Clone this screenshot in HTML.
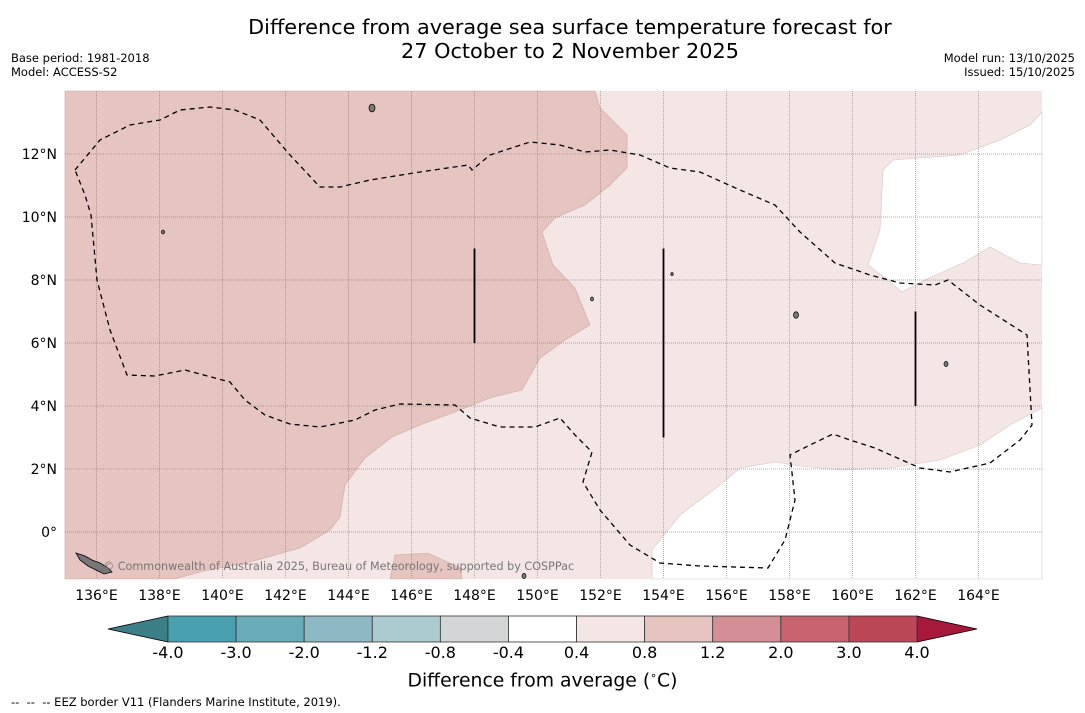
<!DOCTYPE html>
<html><head><meta charset="utf-8"><style>
body{margin:0;background:#fff;font-family:"DejaVu Sans","Liberation Sans",sans-serif;}
#wrap{position:relative;width:1085px;height:713px;overflow:hidden;}
.t{position:absolute;white-space:nowrap;color:#000;}
</style></head><body>
<div id="wrap">
<div class="t" style="left:0;width:1140px;text-align:center;top:15px;font-size:20.8px;line-height:24px;">Difference from average sea surface temperature forecast for<br>27 October to 2 November 2025</div>
<div class="t" style="left:11px;top:51px;font-size:11.5px;line-height:14px;">Base period: 1981-2018<br>Model: ACCESS-S2</div>
<div class="t" style="right:10px;top:51px;font-size:11.5px;line-height:14px;text-align:right;">Model run: 13/10/2025<br>Issued: 15/10/2025</div>
<svg id="map" width="1085" height="713" style="position:absolute;left:0;top:0"></svg>
<div class="t" style="left:0;width:1085px;text-align:center;top:669px;font-size:18.8px;">Difference from average (<sup style="font-size:11px">∘</sup>C)</div>
<div class="t" style="left:11px;top:695px;font-size:11.5px;">-- &nbsp;-- &nbsp;-- EEZ border V11 (Flanders Marine Institute, 2019).</div>
</div>
<script>
const lonTicks=[136,138,140,142,144,146,148,150,152,154,156,158,160,162,164];
const latTicks=[12,10,8,6,4,2,0];
const latLabels=["12°N","10°N","8°N","6°N","4°N","2°N","0°"];
const cbLevels=["-4.0","-3.0","-2.0","-1.2","-0.8","-0.4","0.4","0.8","1.2","2.0","3.0","4.0"];
const cbColors=["#49a1b0","#6aadb9","#8cb9c4","#abcbce","#d2d6d6","#ffffff","#f4e6e4","#e6c5c1","#d48f96","#c8636f","#bc4757"];
const warmZone=[[65,91],[595,91],[600,108],[627,135],[627,168],[610,185],[585,205],[555,218],[542,232],[553,265],[575,288],[590,325],[565,340],[540,358],[522,390],[490,398],[455,412],[420,425],[392,437],[365,458],[345,485],[340,517],[330,530],[300,548],[250,562],[200,572],[175,579],[65,579]];
const warmPatch=[[390,579],[395,555],[428,553],[460,568],[462,579]];
const neutralNE=[[883,170],[893,160],[960,155],[1000,140],[1030,125],[1042,112],[1042,265],[1020,263],[990,247],[965,262],[925,280],[902,292],[885,278],[868,265],[880,230]];
const neutralSE=[[652,579],[652,550],[680,515],[720,485],[740,468],[775,462],[800,466],[840,470],[890,468],[940,460],[980,445],[1010,425],[1042,408],[1042,579]];
const eez=[[75,170],[100,140],[130,125],[160,120],[180,110],[210,107],[235,110],[260,120],[290,155],[320,187],[340,187],[370,180],[420,172],[468,165],[472,170],[490,155],[530,142],[560,145],[585,152],[610,150],[640,155],[670,168],[700,172],[740,190],[775,205],[800,232],[835,263],[870,275],[900,283],[935,285],[948,280],[980,305],[1027,335],[1032,425],[1020,440],[990,463],[950,472],[920,468],[875,448],[850,440],[833,434],[810,445],[790,455],[795,500],[785,540],[768,568],[700,566],[660,563],[630,545],[600,510],[583,482],[592,452],[575,435],[560,418],[535,427],[500,427],[470,418],[455,405],[400,404],[375,410],[355,420],[320,427],[290,424],[265,415],[245,400],[230,382],[185,370],[155,376],[127,375],[110,330],[97,280],[91,215],[85,195],[75,170]];
const segs=[[148,9,6],[154,9,3],[162,7,4]];
const L=65,R=1042,T=91,B=579;
const x=lon=>65+(lon-135)*31.5, y=lat=>91+(14-lat)*31.5;
const s=document.getElementById('map');const NS='http://www.w3.org/2000/svg';
function mk(tag,at,parent){const e=document.createElementNS(NS,tag);for(const k in at)e.setAttribute(k,at[k]);(parent||s).appendChild(e);return e;}
const pts=a=>a.map(p=>p.join(',')).join(' ');
const bg=mk('rect',{x:L,y:T,width:R-L,height:B-T,fill:'#f4e6e4'});


const w1=mk('polygon',{points:pts(warmZone),fill:'#e6c5c1',stroke:'#c9a8a4','stroke-width':0.6});


const w2=mk('polygon',{points:pts(warmPatch),fill:'#e6c5c1',stroke:'#c9a8a4','stroke-width':0.6});


[neutralNE,neutralSE].forEach((p,i)=>{const e=mk('polygon',{points:pts(p),fill:'#fff',stroke:'#d8c4c2','stroke-width':0.6});

});
lonTicks.forEach(l=>{const g=mk('line',{x1:x(l),x2:x(l),y1:T,y2:B,stroke:'#777','stroke-width':0.7,'stroke-dasharray':'1,1',opacity:0.8});


const t=mk('text',{x:x(l),y:600,'text-anchor':'middle','font-size':14,'font-family':'DejaVu Sans, sans-serif'});t.textContent=l+'°E';

});
latTicks.forEach((l,i)=>{const g=mk('line',{x1:L,x2:R,y1:y(l),y2:y(l),stroke:'#777','stroke-width':0.7,'stroke-dasharray':'1,1',opacity:0.8});


const t=mk('text',{x:57,y:y(l)+5,'text-anchor':'end','font-size':14,'font-family':'DejaVu Sans, sans-serif'});t.textContent=latLabels[i];

});
const ez=mk('polyline',{points:pts(eez),fill:'none',stroke:'#000','stroke-width':1.3,'stroke-dasharray':'5,4'});


segs.forEach(sg=>{const e=mk('line',{x1:x(sg[0]),x2:x(sg[0]),y1:y(sg[1]),y2:y(sg[2]),stroke:'#000','stroke-width':1.8});

});
const isl=mk('polygon',{points:'76,553 85,556 92,560 100,563 108,568 112,572 104,574 96,570 88,566 80,560',fill:'#777',stroke:'#000','stroke-width':0.8});


[[372,108,3],[796,315,2.5],[946,364,2],[524,576,2],[163,232,1.5],[592,299,1.5],[672,274,1.2]].forEach(p=>{const e=mk('ellipse',{cx:p[0],cy:p[1],rx:p[2],ry:p[2]*1.3,fill:'#777',stroke:'#000','stroke-width':0.7});

});
const cp=mk('text',{x:103,y:570,'font-size':11.2,fill:'#777','font-family':'DejaVu Sans, sans-serif'});cp.textContent='© Commonwealth of Australia 2025, Bureau of Meteorology, supported by COSPPac';


const c0=168,c1=917,cw=(c1-c0)/cbColors.length,cy0=616,cy1=642;
const la=mk('polygon',{points:`108,629 ${c0},${cy0} ${c0},${cy1}`,fill:'#3c7f88',stroke:'#000','stroke-width':0.8});


const ra=mk('polygon',{points:`977,629 ${c1},${cy0} ${c1},${cy1}`,fill:'#a6193b',stroke:'#000','stroke-width':0.8});


cbColors.forEach((c,i)=>{const e=mk('rect',{x:c0+i*cw,y:cy0,width:cw,height:cy1-cy0,fill:c,stroke:'#333','stroke-width':0.8});

});
cbLevels.forEach((v,i)=>{const t=mk('text',{x:c0+i*cw,y:658,'text-anchor':'middle','font-size':16,'font-family':'DejaVu Sans, sans-serif'});t.textContent=v;

});
</script>
</body></html>
